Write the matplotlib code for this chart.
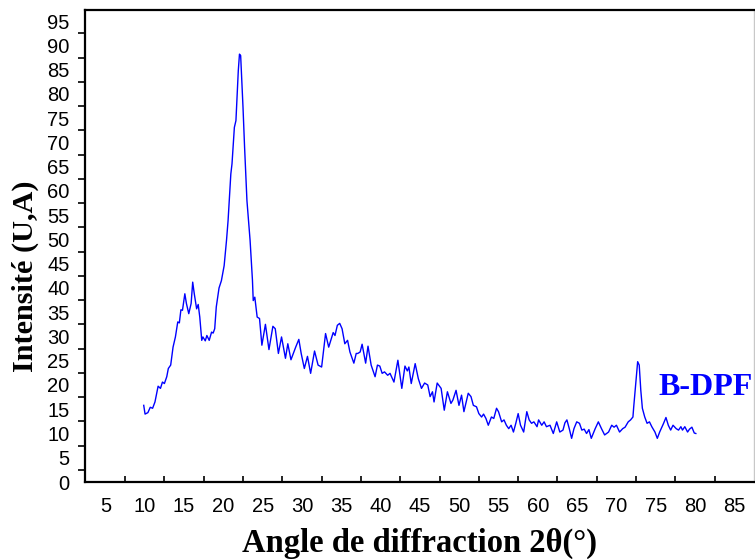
import numpy as np
import matplotlib
matplotlib.use("Agg")
from matplotlib import pyplot as plt
from matplotlib.ticker import FixedLocator

# ---------------------------------------------------------------------------
# XRD pattern of B-DPF
# ---------------------------------------------------------------------------
two_theta = [
    9.87, 10.04, 10.4, 10.7, 11.0, 11.3, 11.7, 12.0, 12.25, 12.5, 12.8, 13.0,
    13.3, 13.6, 13.9, 14.2, 14.4, 14.6, 14.8, 15.1, 15.3, 15.6, 15.9, 16.1,
    16.3, 16.6, 16.8, 17.0, 17.25, 17.4, 17.7, 17.9, 18.2, 18.5, 18.7, 18.9,
    19.1, 19.45, 19.75, 20.1, 20.4, 20.6, 20.95, 21.1, 21.4, 21.6, 21.9, 22.05,
    22.2, 22.5, 22.7, 23.0, 23.4, 23.7, 23.8, 24.0, 24.3, 24.6, 24.9, 25.35,
    25.8, 26.3, 26.6, 27.0, 27.4, 27.9, 28.2, 28.6, 28.9, 29.2, 29.6, 29.9,
    30.3, 30.7, 31.1, 31.6, 32.05, 32.5, 33.0, 33.4, 33.97, 34.2, 34.5, 34.8,
    35.1, 35.45, 35.8, 36.1, 36.6, 36.9, 37.1, 37.4, 37.65, 38.1, 38.4, 38.8,
    39.3, 39.6, 39.9, 40.2, 40.5, 40.9, 41.2, 41.7, 42.2, 42.7, 43.1, 43.4,
    43.6, 43.9, 44.4, 44.8, 45.2, 45.6, 46.0, 46.3, 46.6, 46.8, 47.2, 47.7,
    48.1, 48.5, 48.95, 49.2, 49.6, 49.97, 50.3, 50.6, 51.15, 51.5, 51.8, 52.2,
    52.5, 52.85, 53.1, 53.4, 53.7, 54.1, 54.4, 54.75, 55.0, 55.4, 55.7, 56.0,
    56.3, 56.6, 56.9, 57.2, 57.5, 57.8, 58.2, 58.6, 58.9, 59.2, 59.5, 59.9,
    60.1, 60.5, 60.8, 61.1, 61.55, 61.97, 62.4, 62.8, 63.2, 63.45, 63.7, 64.0,
    64.3, 64.6, 64.95, 65.3, 65.6, 65.9, 66.2, 66.5, 66.8, 67.3, 67.7, 68.1,
    68.5, 69.0, 69.4, 69.7, 70.0, 70.4, 70.8, 71.1, 71.5, 71.8, 72.1, 72.2,
    72.5, 72.7, 72.9, 73.1, 73.3, 73.6, 73.9, 74.2, 74.5, 74.9, 75.2, 75.5,
    76.0, 76.3, 76.6, 76.9, 77.2, 77.6, 77.9, 78.2, 78.4, 78.7, 79.05, 79.3,
    79.6, 79.9, 80.1,
]
intensity = [
    15.8, 14.0, 14.3, 15.4, 15.2, 16.5, 19.75, 19.3, 20.6, 20.3, 21.7, 23.4,
    24.1, 27.8, 29.9, 33.0, 32.8, 35.5, 35.4, 38.8, 36.8, 34.7, 36.8, 41.2,
    38.8, 35.7, 36.6, 34.0, 29.2, 29.9, 29.1, 30.2, 29.2, 30.9, 30.7, 31.6,
    36.1, 40.0, 41.5, 44.6, 49.8, 53.9, 63.5, 65.6, 73.1, 74.5, 84.8, 88.2,
    87.9, 77.2, 69.0, 58.0, 49.8, 41.6, 37.4, 38.1, 34.0, 33.7, 28.2, 32.5,
    27.3, 32.1, 31.6, 26.5, 29.9, 25.5, 28.5, 25.2, 26.5, 27.8, 29.4, 26.5,
    23.4, 25.9, 22.4, 27.0, 24.1, 23.7, 30.6, 27.8, 30.8, 30.2, 32.3, 32.7,
    31.6, 28.5, 29.2, 26.8, 24.5, 26.5, 26.5, 26.8, 28.4, 24.5, 28.0, 24.1,
    21.7, 24.1, 23.9, 22.4, 22.7, 22.0, 22.4, 20.6, 25.1, 19.3, 23.9, 22.9,
    23.7, 20.3, 24.4, 21.3, 19.3, 20.4, 20.0, 17.6, 18.6, 16.5, 20.4, 19.3,
    14.8, 18.6, 16.2, 16.9, 18.9, 15.8, 17.9, 14.5, 18.3, 17.6, 15.8, 15.5,
    14.1, 13.4, 14.0, 13.1, 11.7, 13.4, 13.1, 15.2, 14.5, 12.4, 12.8, 11.7,
    11.0, 11.7, 10.3, 12.1, 14.1, 11.7, 10.3, 14.5, 12.8, 12.1, 12.4, 11.4,
    12.8, 11.7, 12.4, 11.4, 11.7, 10.0, 12.4, 10.3, 10.7, 12.2, 12.8, 11.0,
    9.0, 11.0, 12.4, 12.1, 10.7, 10.9, 10.0, 10.8, 9.0, 11.0, 12.4, 11.0,
    9.7, 10.3, 11.7, 11.3, 11.7, 10.3, 11.0, 11.3, 12.4, 12.8, 13.4, 15.5,
    21.0, 24.8, 24.1, 18.9, 15.2, 13.4, 12.1, 12.4, 11.4, 10.3, 9.0, 10.3,
    12.1, 13.3, 11.7, 10.7, 11.7, 11.0, 10.7, 11.4, 10.7, 11.4, 10.3, 10.9,
    11.3, 10.1, 10.0,
]

x_labels = list(range(5, 90, 5))
y_labels = list(range(0, 100, 5))
sample_name = "B-DPF"

# ---------------------------------------------------------------------------
# Figure
# ---------------------------------------------------------------------------
W, H = 755, 559
fig = plt.figure(figsize=(W / 100, H / 100), dpi=100)
ax = fig.add_axes([85 / W, 1 - 482 / H, (754 - 85) / W, (482 - 10) / H])

ax.plot(two_theta, intensity, color="#0000ff", lw=1.0)

ax.set_xlim(2.4, 87.5)
ax.set_ylim(0, 97.3)

# labels at multiples of 5, tick marks half way between them
ax.xaxis.set_major_locator(FixedLocator(x_labels))
ax.yaxis.set_major_locator(FixedLocator(y_labels))
ax.xaxis.set_minor_locator(FixedLocator(np.arange(7.5, 87.5, 5)))
ax.yaxis.set_minor_locator(FixedLocator(np.arange(2.5, 97.5, 5)))
ax.tick_params(axis="both", which="major", length=0, labelsize=14.5,
               labelfontfamily="Liberation Sans")
ax.tick_params(axis="x", which="major", pad=11)
ax.tick_params(axis="y", which="major", pad=11)
ax.tick_params(axis="x", which="minor", direction="in", length=4, width=1.2)
ax.tick_params(axis="y", which="minor", direction="out", length=5, width=1.2)

for side in ("left", "bottom", "top"):
    ax.spines[side].set_linewidth(1.6)
ax.spines["right"].set_color("#c8c8c8")
ax.spines["right"].set_linewidth(1.0)

ax.text(75.4, 17.9, sample_name, color="#0000ff", fontsize=23,
        fontweight="bold", family="Liberation Serif", clip_on=False)

fig.text(419 / W, 1 - 543 / H, "Angle de diffraction 2θ(°)", ha="center",
         va="center", fontsize=23.5, fontweight="bold", family="Liberation Serif")
fig.text(25 / W, 1 - 276 / H, "Intensité (U,A)", ha="center", va="center",
         rotation=90, fontsize=21.8, fontweight="bold", family="Liberation Serif")

fig.savefig("out.png", dpi=100)
